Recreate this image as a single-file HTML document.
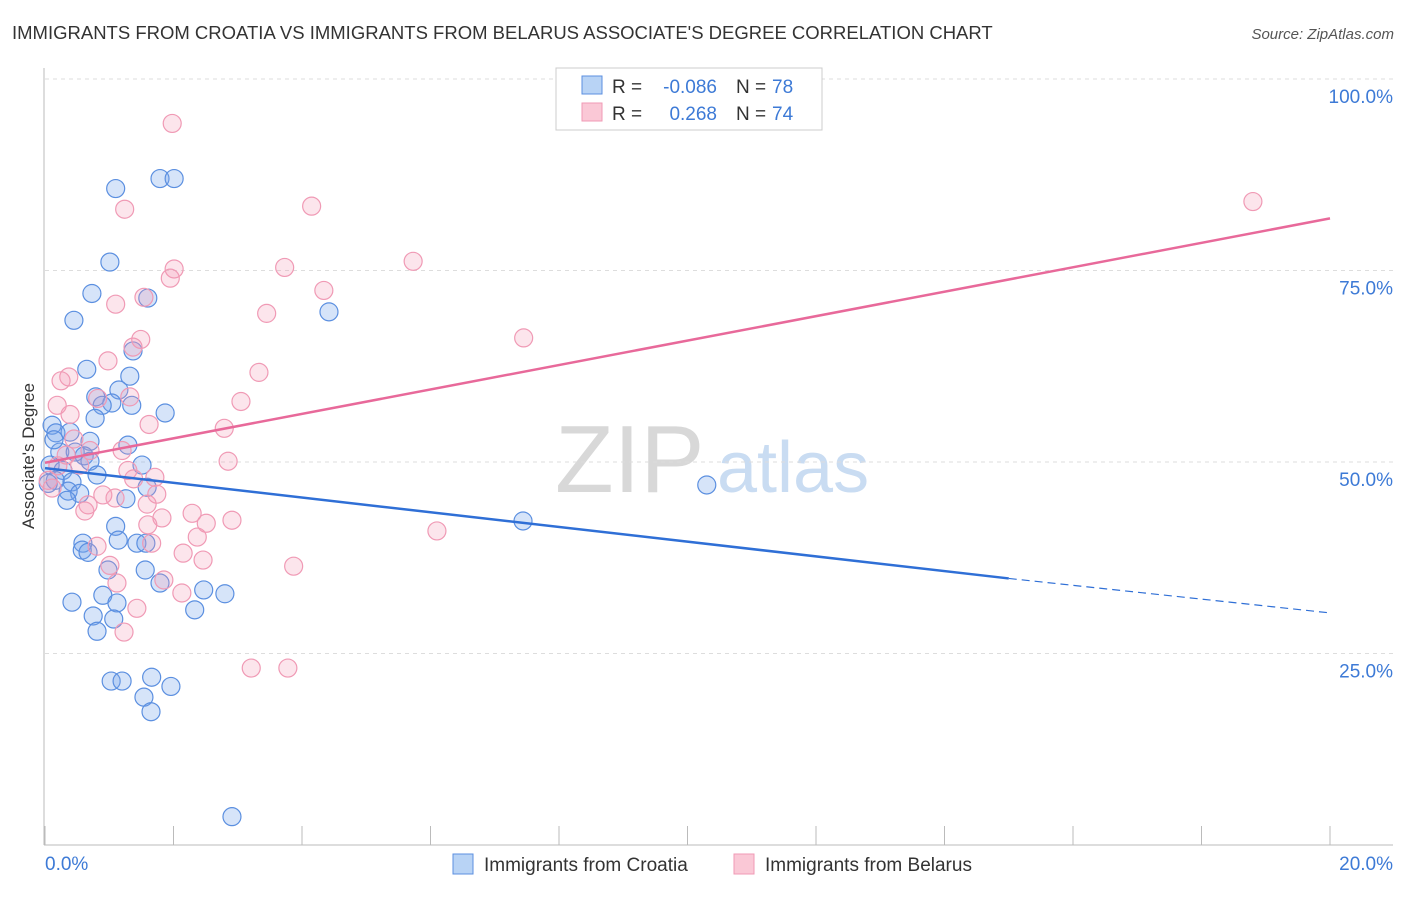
<!DOCTYPE html>
<html><head><meta charset="utf-8"><style>
body{margin:0;background:#fff;font-family:"Liberation Sans",sans-serif}
svg text{font-family:"Liberation Sans",sans-serif}
</style></head><body>
<svg id="c" width="1406" height="892">
<text x="12" y="39" font-size="18.5" fill="#333">IMMIGRANTS FROM CROATIA VS IMMIGRANTS FROM BELARUS ASSOCIATE'S DEGREE CORRELATION CHART</text>
<text x="1394" y="39" font-size="15" fill="#555" font-style="italic" text-anchor="end">Source: ZipAtlas.com</text>
<text x="555" y="492" font-size="96" fill="#d8d8d8" font-family="Liberation Serif">ZIP</text>
<text x="717" y="492" font-size="72" fill="#c9dcf2">atlas</text>
<g id="grid"></g><g id="pts"></g><g id="lines"></g>
<text transform="translate(34,456) rotate(-90)" font-size="17" fill="#333" text-anchor="middle">Associate's Degree</text>
<g>
<rect x="556" y="68" width="266" height="62" fill="#fff" stroke="#ccc"/>
<rect x="582" y="76" width="20" height="18" fill="#b8d3f5" stroke="#5b8fe0"/>
<rect x="582" y="103" width="20" height="18" fill="#fac8d6" stroke="#f09ab5"/>
<text x="612" y="93" font-size="19" fill="#333">R =</text>
<text x="717" y="93" font-size="19" fill="#3d7ad6" text-anchor="end">-0.086</text>
<text x="736" y="93" font-size="19" fill="#333">N =</text>
<text x="772" y="93" font-size="19" fill="#3d7ad6">78</text>
<text x="612" y="120" font-size="19" fill="#333">R =</text>
<text x="717" y="120" font-size="19" fill="#3d7ad6" text-anchor="end">0.268</text>
<text x="736" y="120" font-size="19" fill="#333">N =</text>
<text x="772" y="120" font-size="19" fill="#3d7ad6">74</text>
</g>
<g>
<rect x="453" y="854" width="20" height="20" fill="#b8d3f5" stroke="#5b8fe0"/>
<text x="484" y="871" font-size="19" fill="#333">Immigrants from Croatia</text>
<rect x="734" y="854" width="20" height="20" fill="#fac8d6" stroke="#f09ab5"/>
<text x="765" y="871" font-size="19" fill="#333">Immigrants from Belarus</text>
</g>
</svg>
<script>
const blueX=[1.10,1.79,2.01,1.01,0.73,1.60,0.45,4.42,1.37,0.65,1.32,1.15,0.79,1.04,1.35,0.89,1.87,0.78,0.11,0.17,0.39,0.70,1.29,0.23,0.47,0.61,0.70,1.51,0.08,0.28,0.81,0.16,0.42,1.59,0.36,0.54,1.26,0.34,1.10,1.14,1.43,1.57,0.59,0.58,0.67,0.98,1.56,1.79,2.47,2.80,0.90,0.42,1.12,2.33,0.75,1.07,0.81,1.66,1.03,1.20,1.96,1.54,1.65,2.91,10.30,7.44,0.05,0.14];
const blueY=[85.7,87.0,87.0,76.1,72.0,71.4,68.5,69.6,64.5,62.1,61.2,59.4,58.5,57.7,57.4,57.4,56.4,55.7,54.8,53.8,53.9,52.7,52.2,51.3,51.3,50.8,50.1,49.6,49.6,48.9,48.3,47.6,47.4,46.7,46.2,45.9,45.2,45.0,41.6,39.8,39.4,39.4,39.4,38.5,38.2,35.9,35.9,34.2,33.3,32.8,32.6,31.7,31.6,30.7,29.9,29.5,27.9,21.9,21.4,21.4,20.7,19.3,17.4,3.7,47.0,42.3,47.2,52.9];
const pinkX=[1.98,4.15,1.24,18.80,5.73,2.01,3.73,1.95,4.34,1.54,1.10,3.45,7.45,1.49,1.37,0.98,3.33,0.37,0.25,0.82,3.05,1.32,0.19,0.39,1.62,2.79,0.45,1.20,0.70,2.85,0.54,1.29,1.71,1.38,0.05,0.11,0.90,1.74,1.09,0.67,1.59,0.62,2.29,1.82,2.91,2.51,1.60,6.10,2.37,1.66,0.81,2.15,2.46,1.01,3.87,1.12,1.85,2.13,1.43,1.23,3.21,3.78,0.20,0.33];
const pinkY=[94.2,83.4,83.0,84.0,76.2,75.2,75.4,74.0,72.4,71.5,70.6,69.4,66.2,66.0,65.0,63.2,61.7,61.1,60.6,58.3,57.9,58.5,57.4,56.2,54.9,54.4,53.0,51.5,51.5,50.1,49.6,48.9,48.0,47.8,47.6,46.6,45.7,45.8,45.3,44.4,44.5,43.6,43.3,42.7,42.4,42.0,41.8,41.0,40.2,39.4,39.0,38.1,37.2,36.5,36.4,34.2,34.6,32.9,30.9,27.8,23.1,23.1,49.5,50.9];
const blueTrendX=[0,15,20], blueTrendY=[49.2,34.8,30.3];
const pinkTrendX=[0,20], pinkTrendY=[49.9,81.8];
const yTicks=[25,50,75,100], yTickLabels=["25.0%","50.0%","75.0%","100.0%"];
const xTicks=[0,2,4,6,8,10,12,14,16,18,20];
const sx=v=>45+v/20*1285, sy=v=>845-v/100*766;
const NS="http://www.w3.org/2000/svg";
function mk(t,a,p){const e=document.createElementNS(NS,t);for(const k in a)e.setAttribute(k,a[k]);p.appendChild(e);return e;}
const g=document.getElementById('grid');
yTicks.forEach((t,i)=>{
 const l=mk('line',{x1:45,x2:1393,y1:sy(t),y2:sy(t),stroke:'#ddd','stroke-dasharray':'4,4'},g);
 
 
 const tx=mk('text',{x:1393,y:sy(t)+24,'font-size':19,fill:'#3d7ad6','text-anchor':'end'},g);
 tx.textContent=yTickLabels[i];
 
 
});
mk('line',{x1:44,x2:44,y1:68,y2:845,stroke:'#bbb'},g);
mk('line',{x1:44,x2:1393,y1:845,y2:845,stroke:'#bbb'},g);
xTicks.forEach(t=>{const l=mk('line',{x1:sx(t),x2:sx(t),y1:826,y2:845,stroke:'#bbb'},g);
 
 });
const x0=mk('text',{x:45,y:870,'font-size':19,fill:'#3d7ad6'},g);x0.textContent=xTicks[0].toFixed(1)+'%';


const x1=mk('text',{x:1393,y:870,'font-size':19,fill:'#3d7ad6','text-anchor':'end'},g);x1.textContent=xTicks[xTicks.length-1].toFixed(1)+'%';


const P=document.getElementById('pts');
blueX.forEach((x,i)=>{const c=mk('circle',{cx:sx(x),cy:sy(blueY[i]),r:9,fill:'rgba(120,165,235,0.3)',stroke:'#5b8fe0','stroke-width':1.2},P);
 
 });
pinkX.forEach((x,i)=>{const c=mk('circle',{cx:sx(x),cy:sy(pinkY[i]),r:9,fill:'rgba(245,150,180,0.25)',stroke:'#f09ab5','stroke-width':1.2},P);
 
 });
const L=document.getElementById('lines');
const b1=mk('line',{x1:sx(blueTrendX[0]),y1:sy(blueTrendY[0]),x2:sx(blueTrendX[1]),y2:sy(blueTrendY[1]),stroke:'#2f6fd6','stroke-width':2.5},L);


const b2=mk('line',{x1:sx(blueTrendX[1]),y1:sy(blueTrendY[1]),x2:sx(blueTrendX[2]),y2:sy(blueTrendY[2]),stroke:'#2f6fd6','stroke-width':1.2,'stroke-dasharray':'8,5'},L);


const p1=mk('line',{x1:sx(pinkTrendX[0]),y1:sy(pinkTrendY[0]),x2:sx(pinkTrendX[1]),y2:sy(pinkTrendY[1]),stroke:'#e8699a','stroke-width':2.5},L);


</script>
</body></html>
